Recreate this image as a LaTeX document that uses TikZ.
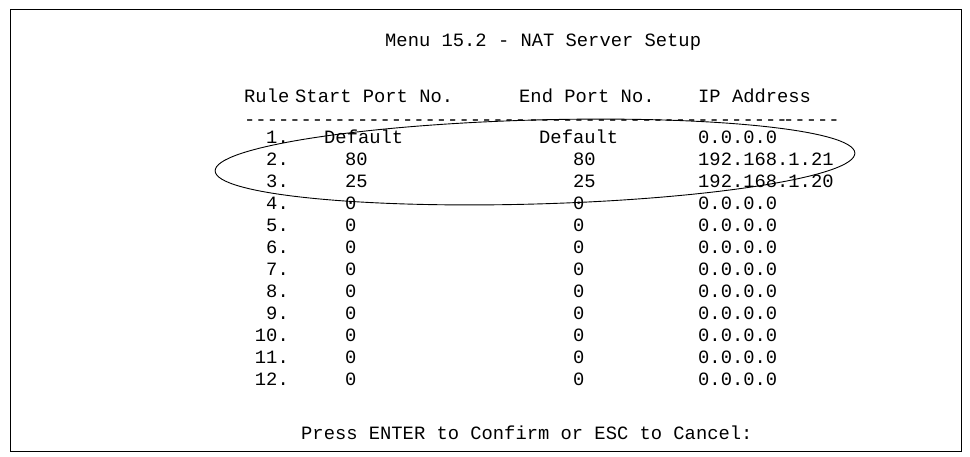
\documentclass[tikz,border=0pt]{standalone}
\usepackage{fontspec}
\newfontfamily\mono{Liberation Mono}
\begin{document}
\begin{tikzpicture}[x=1pt,y=-1pt,
  t/.style={anchor=base west,inner sep=0pt,font=\mono\fontsize{18.8}{20}\selectfont},
  r/.style={anchor=base east,inner sep=0pt,font=\mono\fontsize{18.8}{20}\selectfont}]
\useasboundingbox (0,0) rectangle (970,456);
\draw[line width=1pt] (10,9) rectangle (961,451);
\node[t] (title) at (385,46) {Menu 15.2 - NAT Server Setup};
\node[t] (h1) at (244,102) {Rule};
\node[t] (h2) at (295,102) {Start Port No.};
\node[t] (h3) at (519,102) {End Port No.};
\node[t] (h4) at (698,102) {IP Address};
\node[t] (d1) at (244,125) {-------------------------};
\node[t] (d2) at (528,125) {-----------------------};
\node[t] (d3) at (783,125) {-----};
\foreach \n/\a/\b/\c [count=\i] in {1./Default/Default/0.0.0.0,2./80/80/192.168.1.21,3./25/25/192.168.1.20,4./0/0/0.0.0.0,5./0/0/0.0.0.0,6./0/0/0.0.0.0,7./0/0/0.0.0.0,8./0/0/0.0.0.0,9./0/0/0.0.0.0,10./0/0/0.0.0.0,11./0/0/0.0.0.0,12./0/0/0.0.0.0}{
  \pgfmathsetmacro\yy{143+22*(\i-1)}
  \node[r] (n\i) at (289,\yy) {\n};
  \node[t] (c\i) at (\ifnum\i=1 324\else 345\fi,\yy) {\a};
  \node[t] (e\i) at (\ifnum\i=1 539\else 573\fi,\yy) {\b};
  \node[t] (p\i) at (698,\yy) {\c};
}
\node[t] (press) at (301,439) {Press ENTER to Confirm or ESC to Cancel:};
\draw[line width=0.9pt,rotate around={1.6:(535,162)}] (535,162) ellipse [x radius=320, y radius=42];
\end{tikzpicture}
\end{document}
